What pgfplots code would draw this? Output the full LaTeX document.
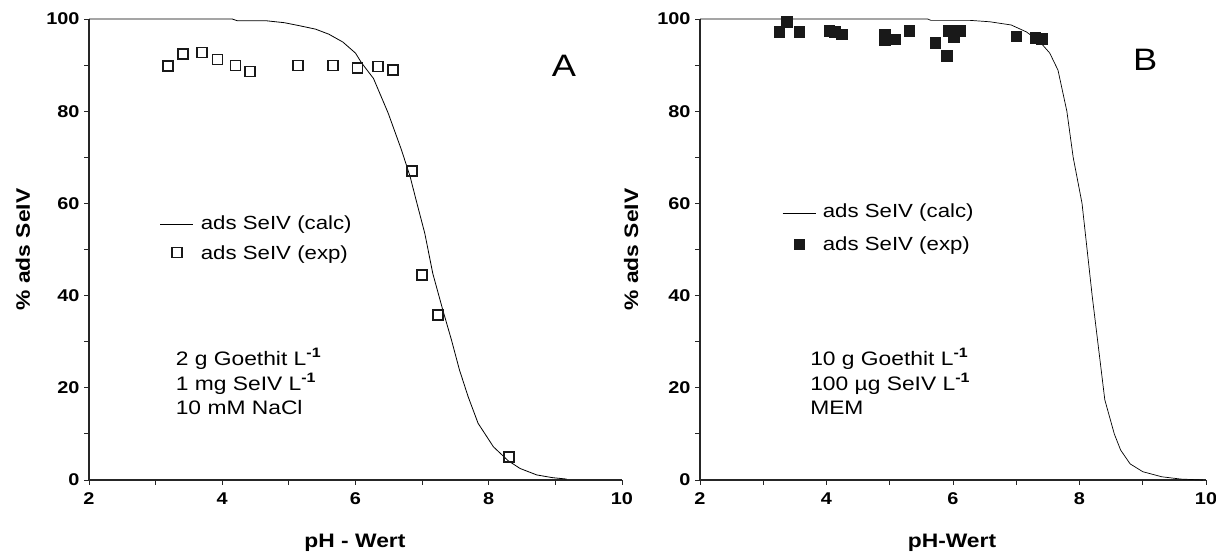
\documentclass[border=0pt]{standalone}
\usepackage{fontspec}
\setmainfont{Liberation Sans}[FakeStretch=1.17]
\usepackage{pgfplots}
\pgfplotsset{compat=1.18}
\pgfplotstableread{
x y
2.00 100
4.15 100
4.23 99.6
4.67 99.6
4.93 99.2
5.14 98.6
5.40 97.8
5.60 96.7
5.81 95.0
6.00 92.6
6.09 90.5
6.27 87.1
6.49 79.6
6.69 71.6
6.82 65.8
6.91 60.7
7.04 53.5
7.16 44.8
7.31 36.9
7.44 30.4
7.56 23.9
7.69 18.1
7.84 12.3
8.07 7.2
8.29 4.2
8.47 2.5
8.72 1.1
8.96 0.5
9.17 0.2
}\calcA
\pgfplotstableread{
x y
3.19 89.8
3.41 92.4
3.70 92.7
3.93 91.2
4.20 89.9
4.42 88.6
5.14 89.9
5.66 89.9
6.03 89.3
6.34 89.7
6.56 88.9
6.85 67.1
7.00 44.4
7.24 35.8
8.30 5.0
}\expA
\pgfplotstableread{
x y
2.00 100
5.60 100
5.65 99.7
6.27 99.7
6.58 99.4
6.92 98.7
7.16 97.2
7.37 95.1
7.53 92.6
7.66 88.9
7.80 80.0
7.90 70.0
8.04 60.0
8.20 40.0
8.40 17.4
8.55 10.0
8.65 6.5
8.80 3.5
9.00 1.8
9.30 0.7
9.60 0.2
9.95 0.0
}\calcB
\pgfplotstableread{
x y
3.25 97.2
3.37 99.4
3.57 97.2
4.04 97.5
4.13 97.2
4.24 96.7
4.92 96.7
4.92 95.5
5.08 95.6
5.31 97.5
5.72 94.9
5.90 92.1
5.93 97.5
6.01 96.2
6.11 97.5
7.00 96.3
7.30 96.0
7.40 95.7
}\expB
\pgfplotsset{
  myaxis/.style={
    scale only axis,
    xmin=2, xmax=10, ymin=0, ymax=100,
    axis x line*=bottom, axis y line*=left,
    axis line style={-, line width=1.1pt, black!85},
    xtick={2,4,...,10}, minor xtick={3,5,7,9},
    ytick={0,20,...,100}, minor ytick={10,30,...,90},
    tick align=outside, major tick length=5pt, minor tick length=5pt,
    every tick/.style={black!85, line width=0.9pt},
    ticklabel style={font=\fontsize{17}{17}\selectfont\bfseries},
    xticklabel style={yshift=-4pt},
    yticklabel style={xshift=-1pt},
    /pgf/number format/assume math mode=true,
    label style={font=\fontsize{19.5}{20}\selectfont\bfseries},
    clip=false,
    legend cell align=left,
    legend style={draw=none, fill=none, inner sep=0pt, column sep=7pt, row sep=11pt,
      font=\fontsize{19}{20}\selectfont,
      nodes={inner sep=0pt, text height=14pt, text depth=5pt}},
  },
  lineleg/.style={legend image code/.code={\draw[##1] (0pt,0pt) -- (33pt,0pt);}},
  markleg/.style={legend image code/.code={\draw[##1] plot coordinates {(16.5pt,2pt)};}},
}
\begin{document}
\begin{tikzpicture}
\useasboundingbox (0,0) rectangle (1216pt,556pt);
% Panel A
\begin{axis}[myaxis, at={(89pt,76pt)}, anchor=south west, width=533pt, height=461pt,
  xlabel={pH - Wert}, ylabel={\% ads SeIV},
  xlabel style={at={(axis description cs:0.499,-0.137)}, anchor=center},
  ylabel style={at={(axis description cs:-0.124,0.5)}, anchor=center},
  legend style={at={(axis description cs:0.133,0.575)}, anchor=north west}]
\addplot[black, line width=0.8pt, lineleg] table {\calcA};
\addlegendentry{ads SeIV (calc)}
\addplot[only marks, mark=square, mark size=5pt, mark options={line width=1.7pt, draw=black!90, fill=white}, markleg] table {\expA};
\addlegendentry{ads SeIV (exp)}
\node[font=\fontsize{31}{31}\selectfont, anchor=center] at (axis cs:9.13,89.8) {A};
\node[font=\fontsize{19.5}{20}\selectfont, anchor=base west, inner sep=0pt] at (axis cs:3.30,24.9) {2 g Goethit L\textsuperscript{\bfseries -1}};
\node[font=\fontsize{19.5}{20}\selectfont, anchor=base west, inner sep=0pt] at (axis cs:3.30,19.5) {1 mg SeIV L\textsuperscript{\bfseries -1}};
\node[font=\fontsize{19.5}{20}\selectfont, anchor=base west, inner sep=0pt] at (axis cs:3.30,14.1) {10 mM NaCl};
\end{axis}
% Panel B
\begin{axis}[myaxis, at={(700pt,76pt)}, anchor=south west, width=506pt, height=461pt,
  xlabel={pH-Wert}, ylabel={\% ads SeIV},
  xlabel style={at={(axis description cs:0.498,-0.137)}, anchor=center},
  ylabel style={at={(axis description cs:-0.136,0.5)}, anchor=center},
  legend style={at={(axis description cs:0.162,0.600)}, anchor=north west, row sep=14pt}]
\addplot[black, line width=0.7pt, lineleg] table {\calcB};
\addlegendentry{ads SeIV (calc)}
\addplot[only marks, mark=square*, mark size=5.3pt, mark options={draw=black!90, fill=black!90}, markleg] table {\expB};
\addlegendentry{ads SeIV (exp)}
\node[font=\fontsize{31}{31}\selectfont, anchor=center] at (axis cs:9.04,91.1) {B};
\node[font=\fontsize{19.5}{20}\selectfont, anchor=base west, inner sep=0pt] at (axis cs:3.74,24.9) {10 g Goethit L\textsuperscript{\bfseries -1}};
\node[font=\fontsize{19.5}{20}\selectfont, anchor=base west, inner sep=0pt] at (axis cs:3.74,19.5) {100 µg SeIV L\textsuperscript{\bfseries -1}};
\node[font=\fontsize{19.5}{20}\selectfont, anchor=base west, inner sep=0pt] at (axis cs:3.74,14.1) {MEM};
\end{axis}
\end{tikzpicture}
\end{document}
